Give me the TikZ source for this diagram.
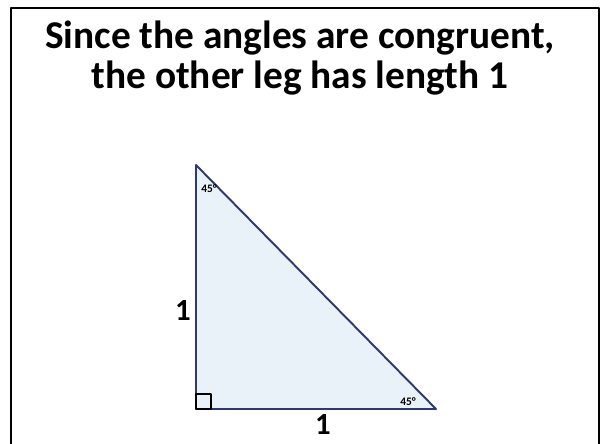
\documentclass[tikz,border=0pt]{standalone}
\usepackage{fontspec}
\setmainfont{Carlito}
\usetikzlibrary{positioning}

\definecolor{legblue}{HTML}{2E3A6E}
\definecolor{fillblue}{HTML}{E9F2F8}

\begin{document}
\begin{tikzpicture}[
			x=0.2mm,
			y=0.2mm,
			line cap=round,
			line join=round,
			titleline/.style={font=\bfseries\fontsize{22.4}{24}\selectfont, inner sep=0pt},
			sidelabel/.style={font=\bfseries\fontsize{17.5}{18}\selectfont},
			anglelabel/.style={font=\bfseries\fontsize{6.5}{7}\selectfont, inner sep=0pt}
			]
			
			\useasboundingbox (0,0) rectangle (600,444);
			
			% frame, open at the bottom
			\draw[line width=1.4pt] (11,-5) -- (11,436) -- (599,436) -- (599,-5);
			
			% title
			\node[titleline, anchor=base] (titletop) at (300,395) {Since the angles are congruent,};
			\node[titleline, anchor=base] (titlebottom) at (300,355) {the other leg has length 1};
			
			% triangle
			\coordinate (A) at (196,279);
			\coordinate (C) at (196,35);
			\coordinate (B) at (436,35);
			\fill[fillblue] (A) -- (C) -- (B) -- cycle;
			\draw[legblue, line width=1.1pt] (A) -- (C) -- (B) -- cycle;
			
			% right angle
			\draw[line width=1pt] (C) rectangle ++(15,15);
			
			% labels
			\node[sidelabel] (legleft) at (183,133) {1};
			\node[sidelabel] (legbottom) at (323,19) {1};
			\node[anglelabel] (angtop) at (209,255) {45°};
			\node[anglelabel] (angright) at (408,42) {45°};
			
		\end{tikzpicture}
\end{document}
